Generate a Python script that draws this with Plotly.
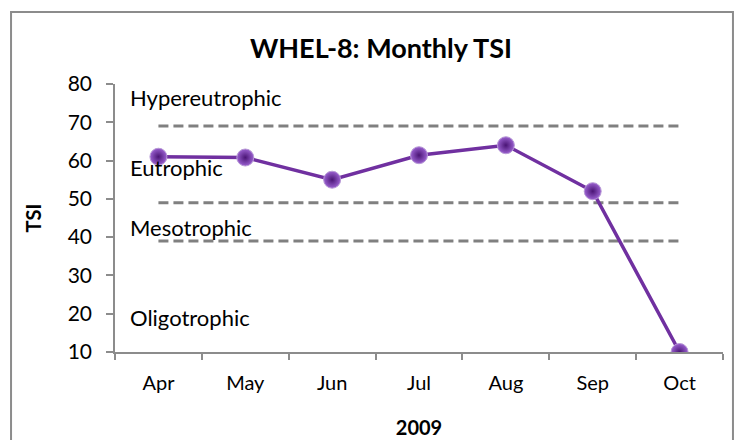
import plotly.graph_objects as go

months = ["Apr", "May", "Jun", "Jul", "Aug", "Sep", "Oct"]
tsi = [61.0, 60.8, 55.0, 61.4, 64.0, 52.0, 10.0]
hyper_line = [69, 69, 69, 69, 69, 69, 69]
eutro_line = [49, 49, 49, 49, 49, 49, 49]
meso_line = [39, 39, 39, 39, 39, 39, 39]
y_ticks = [10, 20, 30, 40, 50, 60, 70, 80]
zone_labels = ["Hypereutrophic", "Eutrophic", "Mesotrophic", "Oligotrophic"]
zone_label_y = [76.6, 58.2, 42.6, 19.0]

FONT = "Lato"
GRAY = "#8c8c8c"
DASH = "#808080"

fig = go.Figure()
for ref in (hyper_line, eutro_line, meso_line):
    fig.add_trace(go.Scatter(
        x=months, y=ref, mode="lines",
        line=dict(color=DASH, width=3, dash="10px,5px"),
        hoverinfo="skip", showlegend=False))

fig.add_trace(go.Scatter(
    x=months, y=tsi, mode="lines+markers",
    line=dict(color="#7030A0", width=3.5),
    marker=dict(size=17, color="#9a60d0",
                gradient=dict(type="radial", color="#4a1575"),
                line=dict(color="#b89ad6", width=1)),
    showlegend=False))

for txt, yv in zip(zone_labels, zone_label_y):
    fig.add_annotation(text=txt, x=0.022, xref="paper", y=yv, yref="y",
                       xanchor="left", yanchor="middle", showarrow=False,
                       font=dict(family=FONT, size=22, color="#000000"))

fig.add_shape(type="rect", xref="paper", yref="paper",
              x0=-0.171, x1=1.0164, y0=-0.34, y1=1.269,
              line=dict(color=GRAY, width=2), fillcolor="rgba(0,0,0,0)",
              layer="below")

fig.update_layout(
    width=746, height=440,
    margin=dict(l=107, r=31, t=76, b=93),
    paper_bgcolor="white", plot_bgcolor="white",
    font=dict(family=FONT, color="#000000"),
    title=dict(text="<b>WHEL-8: Monthly TSI</b>", x=0.5, xref="container",
               xanchor="center",
               y=0.907, yref="container", yanchor="middle",
               font=dict(family=FONT, size=27, color="#000000")),
    xaxis=dict(type="category", categoryorder="array", categoryarray=months,
               range=[-0.5, 6.5], tickson="boundaries",
               ticks="outside", ticklen=6, tickcolor=GRAY, tickwidth=1.5,
               showline=True, linecolor=GRAY, linewidth=1.5,
               showgrid=False, zeroline=False,
               tickfont=dict(family=FONT, size=20, color="#000000"),
               ticklabelstandoff=12,
               title=dict(text="<b>2009</b>", standoff=28,
                          font=dict(family=FONT, size=20, color="#000000"))),
    yaxis=dict(range=[10, 80], tickvals=y_ticks,
               ticks="outside", ticklen=7, tickcolor=GRAY, tickwidth=1.5,
               showline=True, linecolor=GRAY, linewidth=1.5,
               showgrid=False, zeroline=False,
               tickfont=dict(family=FONT, size=21, color="#000000"),
               ticklabelstandoff=10,
               title=dict(text="<b>TSI</b>", standoff=21,
                          font=dict(family=FONT, size=20, color="#000000"))),
)

fig.write_html("out.html")
